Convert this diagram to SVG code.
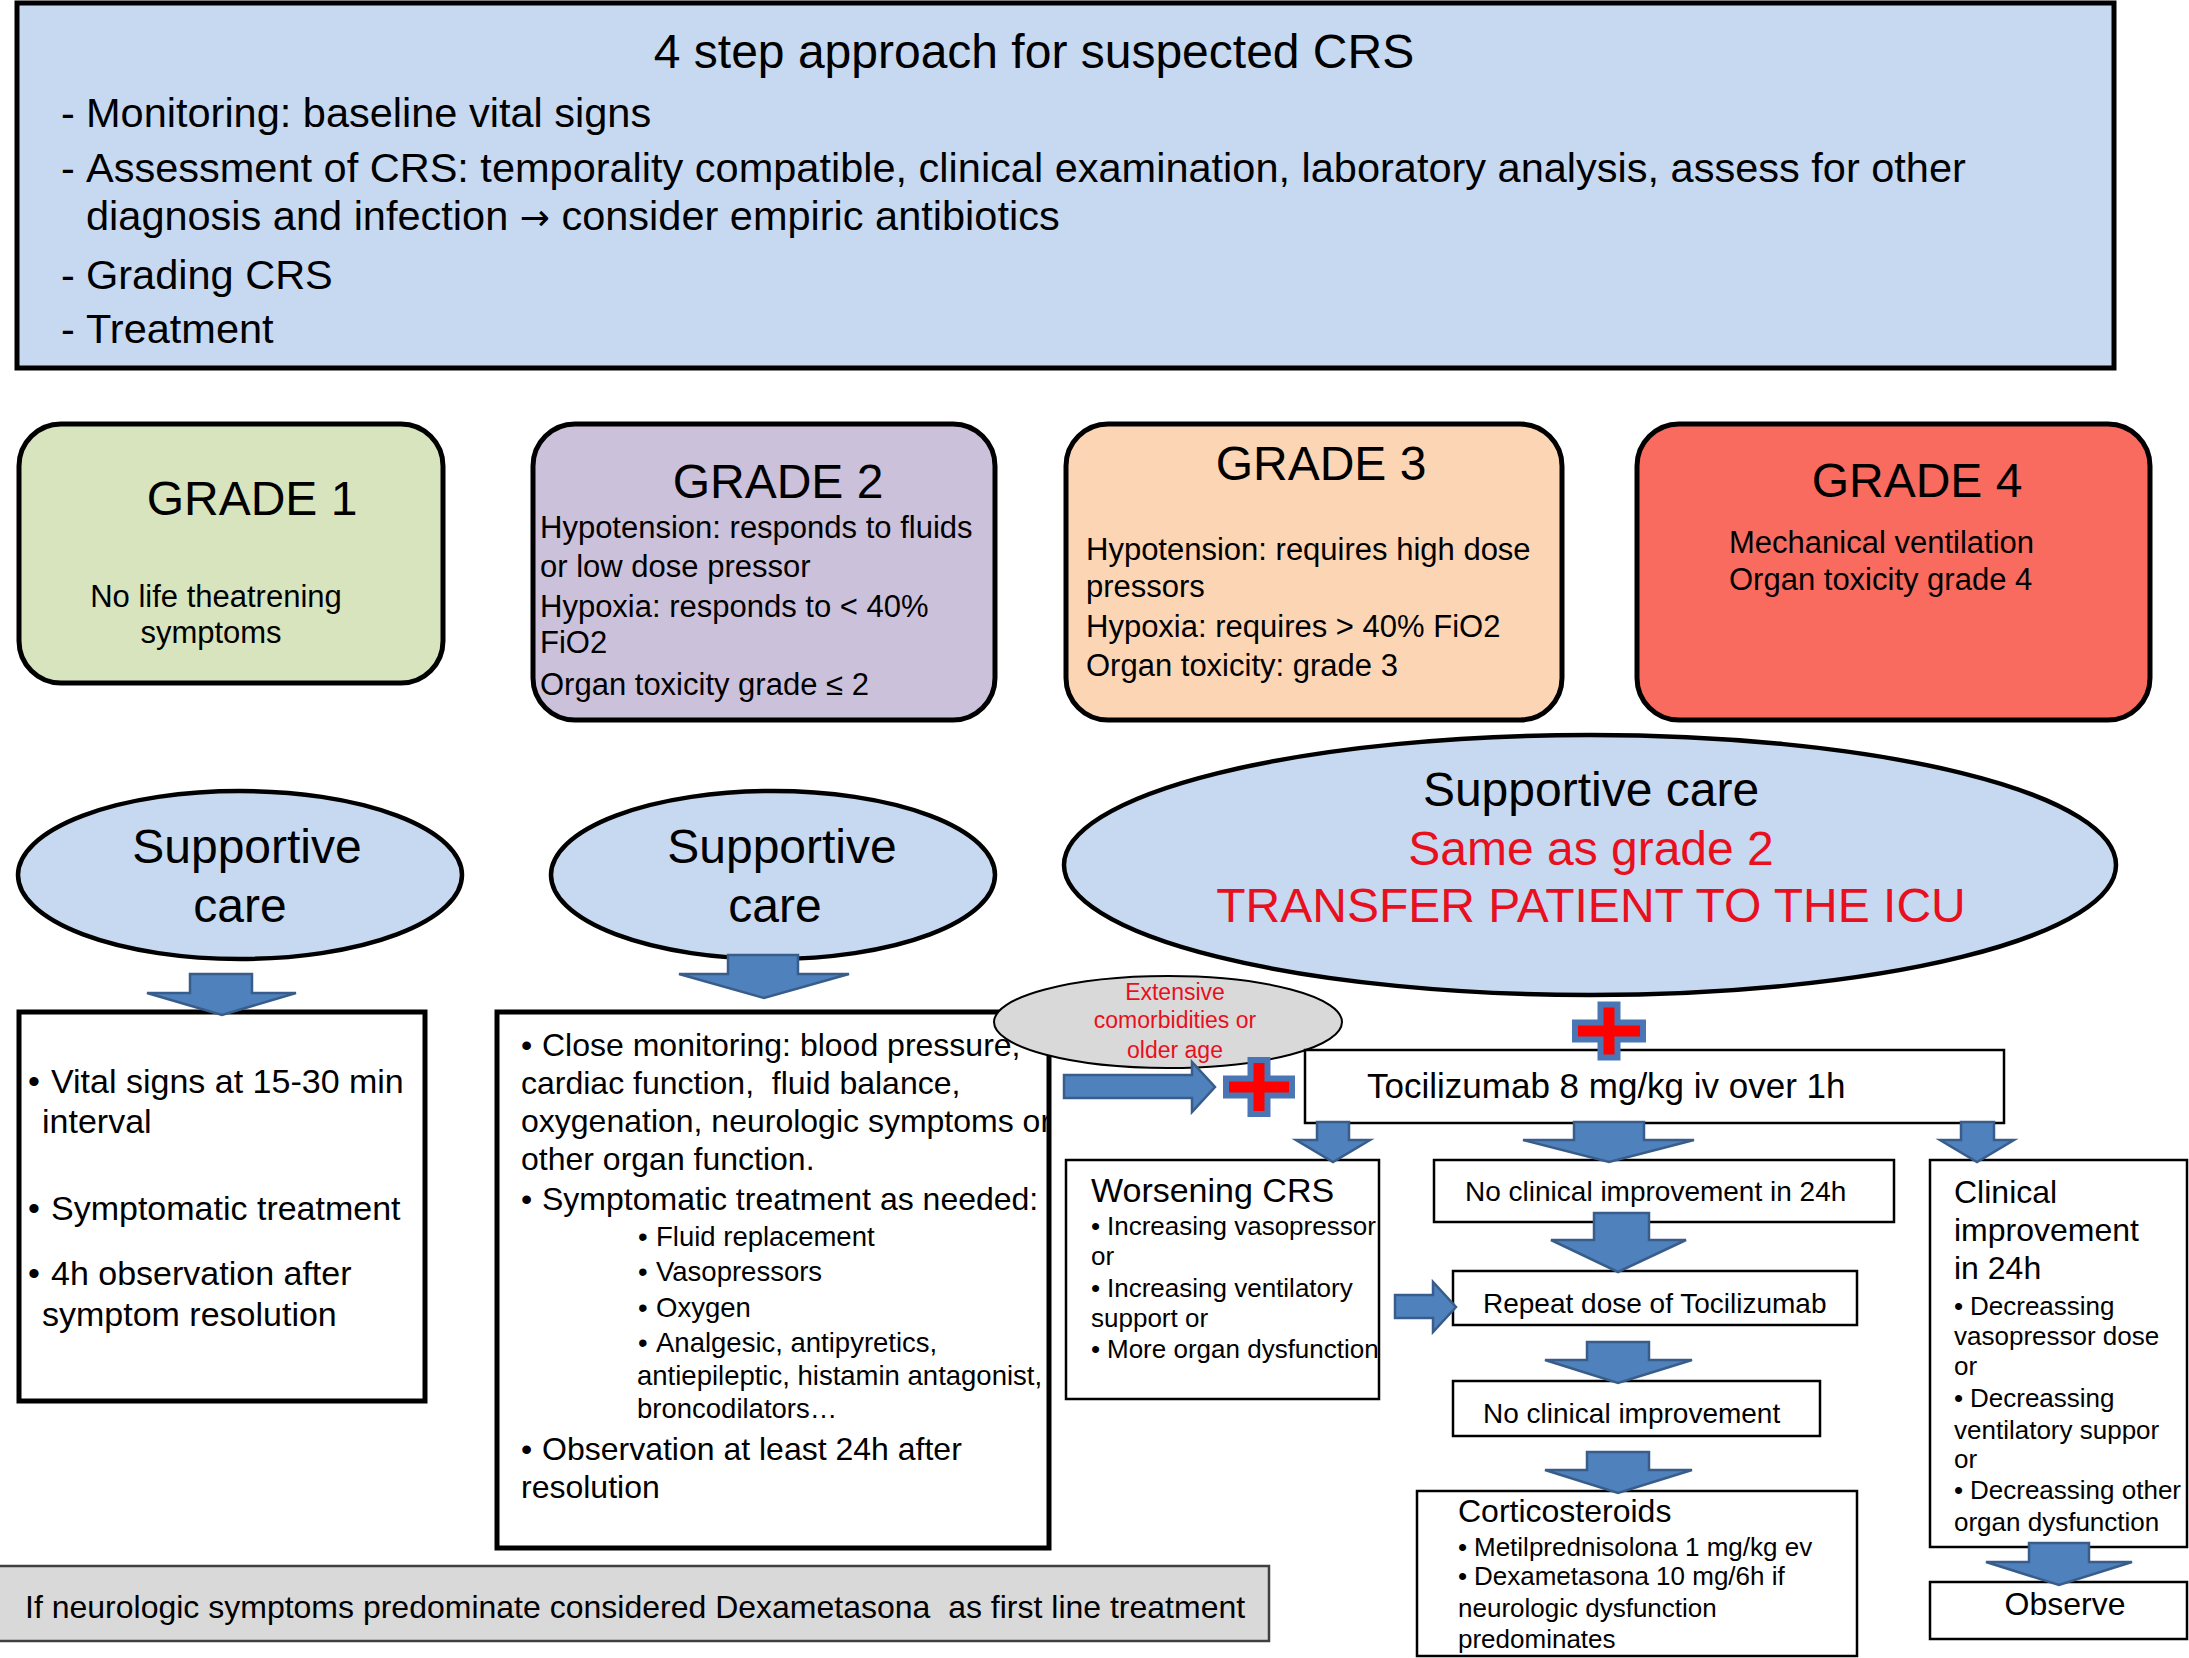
<svg xmlns="http://www.w3.org/2000/svg" width="2189" height="1658" viewBox="0 0 2189 1658">
<style>
text{font-family:"Liberation Sans",Arial,Helvetica,sans-serif;fill:#000}
.red{fill:#e8101e}
.t48{font-size:48px}
.t41{font-size:41.5px}
.t31{font-size:31px}
.t34{font-size:34px}
.t32{font-size:32px}
.t28{font-size:28px}
.t27{font-size:27.5px}
.t26{font-size:26px}
.t23{font-size:23px}
.mid{text-anchor:middle}
.box{fill:#fff;stroke:#000;stroke-width:5}
.thin{fill:#fff;stroke:#000;stroke-width:2.5}
.grade{stroke:#000;stroke-width:5}
.ell{fill:#c6d9f1;stroke:#000;stroke-width:4.5}
.arr{fill:#4f81bd;stroke:#385d8a;stroke-width:2.5;stroke-linejoin:miter}
.plus{fill:#ff0000;stroke:#4a76b5;stroke-width:6}
.sym{font-family:"DejaVu Sans",sans-serif}
</style>

<g id="header">
<rect x="17" y="3" width="2097" height="365" fill="#c6d9f1" stroke="#000" stroke-width="5"/>
<text class="t48 mid" x="1034" y="68">4 step approach for suspected CRS</text>
<text class="t41" x="61" y="127">-</text><text class="t41" x="86" y="127">Monitoring: baseline vital signs</text>
<text class="t41" x="61" y="182">-</text><text class="t41" x="86" y="182">Assessment of CRS: temporality compatible, clinical examination, laboratory analysis, assess for other</text>
<text class="t41" x="86" y="230">diagnosis and infection <tspan class="sym" style="font-size:36px">→</tspan> consider empiric antibiotics</text>
<text class="t41" x="61" y="289">-</text><text class="t41" x="86" y="289">Grading CRS</text>
<text class="t41" x="61" y="343">-</text><text class="t41" x="86" y="343">Treatment</text>
</g>

<g id="grade1">
<rect class="grade" x="19" y="424" width="424" height="259" rx="42" fill="#d7e4bd"/>
<text class="t48 mid" x="252" y="515">GRADE 1</text>
<text class="t31 mid" x="216" y="607">No life theatrening</text>
<text class="t31 mid" x="211" y="643">symptoms</text>
</g>

<g id="grade2">
<rect class="grade" x="533" y="424" width="462" height="296" rx="42" fill="#ccc1da"/>
<text class="t48 mid" x="778" y="498">GRADE 2</text>
<text class="t31" x="540" y="538">Hypotension: responds to fluids</text>
<text class="t31" x="540" y="577">or low dose pressor</text>
<text class="t31" x="540" y="617">Hypoxia: responds to &lt; 40%</text>
<text class="t31" x="540" y="653">FiO2</text>
<text class="t31" x="540" y="695">Organ toxicity grade ≤ 2</text>
</g>

<g id="grade3">
<rect class="grade" x="1066" y="424" width="496" height="296" rx="42" fill="#fcd5b5"/>
<text class="t48 mid" x="1321" y="480">GRADE 3</text>
<text class="t31" x="1086" y="560">Hypotension: requires high dose</text>
<text class="t31" x="1086" y="597">pressors</text>
<text class="t31" x="1086" y="637">Hypoxia: requires &gt; 40% FiO2</text>
<text class="t31" x="1086" y="676">Organ toxicity: grade 3</text>
</g>

<g id="grade4">
<rect class="grade" x="1637" y="424" width="513" height="296" rx="42" fill="#f86b5e"/>
<text class="t48 mid" x="1917" y="497">GRADE 4</text>
<text class="t31" x="1729" y="553">Mechanical ventilation</text>
<text class="t31" x="1729" y="590">Organ toxicity grade 4</text>
</g>

<g id="supportive1">
<ellipse class="ell" cx="240" cy="875" rx="222" ry="84"/>
<text class="t48 mid" x="247" y="863">Supportive</text>
<text class="t48 mid" x="240" y="922">care</text>
</g>

<g id="supportive2">
<ellipse class="ell" cx="773" cy="875" rx="222" ry="84"/>
<text class="t48 mid" x="782" y="863">Supportive</text>
<text class="t48 mid" x="775" y="922">care</text>
</g>

<g id="supportive3">
<ellipse class="ell" cx="1590" cy="865" rx="526" ry="130"/>
<text class="t48 mid" x="1591" y="806">Supportive care</text>
<text class="t48 mid red" x="1591" y="865">Same as grade 2</text>
<text class="t48 mid red" x="1591" y="922">TRANSFER PATIENT TO THE ICU</text>
</g>

<g id="care1">
<rect class="box" x="19" y="1012" width="406" height="389"/>
<text class="t34" x="28" y="1093">•</text><text class="t34" x="51" y="1093">Vital signs at 15-30 min</text>
<text class="t34" x="42" y="1133">interval</text>
<text class="t34" x="28" y="1220">•</text><text class="t34" x="51" y="1220">Symptomatic treatment</text>
<text class="t34" x="28" y="1285">•</text><text class="t34" x="51" y="1285">4h observation after</text>
<text class="t34" x="42" y="1326">symptom resolution</text>
</g>

<g id="care2">
<rect class="box" x="497" y="1012" width="552" height="536"/>
<text class="t32" x="521" y="1056">•</text><text class="t32" x="542" y="1056">Close monitoring: blood pressure,</text>
<text class="t32" x="521" y="1094" xml:space="preserve">cardiac function,  fluid balance,</text>
<text class="t32" x="521" y="1132">oxygenation, neurologic symptoms or</text>
<text class="t32" x="521" y="1170">other organ function.</text>
<text class="t32" x="521" y="1210">•</text><text class="t32" x="542" y="1210">Symptomatic treatment as needed:</text>
<text class="t27" x="638" y="1246">•</text><text class="t27" x="656" y="1246">Fluid replacement</text>
<text class="t27" x="638" y="1281">•</text><text class="t27" x="656" y="1281">Vasopressors</text>
<text class="t27" x="638" y="1317">•</text><text class="t27" x="656" y="1317">Oxygen</text>
<text class="t27" x="638" y="1352">•</text><text class="t27" x="656" y="1352">Analgesic, antipyretics,</text>
<text class="t27" x="637" y="1385">antiepileptic, histamin antagonist,</text>
<text class="t27" x="637" y="1418">broncodilators…</text>
<text class="t32" x="521" y="1460">•</text><text class="t32" x="542" y="1460">Observation at least 24h after</text>
<text class="t32" x="521" y="1498">resolution</text>
</g>

<g id="note">
<rect x="-2" y="1566" width="1271" height="75" fill="#d9d9d9" stroke="#404040" stroke-width="2.5"/>
<text class="t32" x="25" y="1618" xml:space="preserve">If neurologic symptoms predominate considered Dexametasona  as first line treatment</text>
</g>

<g id="comorbidities">
<ellipse cx="1168" cy="1022" rx="174" ry="46" fill="#d9d9d9" stroke="#000" stroke-width="2"/>
<text class="t23 mid red" x="1175" y="1000">Extensive</text>
<text class="t23 mid red" x="1175" y="1028">comorbidities or</text>
<text class="t23 mid red" x="1175" y="1058">older age</text>
</g>

<g id="tocilizumab">
<rect class="thin" x="1305" y="1050" width="699" height="73"/>
<text x="1367" y="1098" style="font-size:35px">Tocilizumab 8 mg/kg iv over 1h</text>
</g>

<g id="worsening">
<rect class="thin" x="1066" y="1160" width="313" height="239"/>
<text class="t34" x="1091" y="1202">Worsening CRS</text>
<text class="t26" x="1091" y="1235">•</text><text class="t26" x="1107" y="1235">Increasing vasopressor</text>
<text class="t26" x="1091" y="1265">or</text>
<text class="t26" x="1091" y="1297">•</text><text class="t26" x="1107" y="1297">Increasing ventilatory</text>
<text class="t26" x="1091" y="1327">support or</text>
<text class="t26" x="1091" y="1358">•</text><text class="t26" x="1107" y="1358">More organ dysfunction</text>
</g>

<g id="noimprove24">
<rect class="thin" x="1434" y="1160" width="460" height="62"/>
<text class="t28" x="1465" y="1201">No clinical improvement in 24h</text>
</g>

<g id="repeat">
<rect class="thin" x="1453" y="1271" width="404" height="54"/>
<text class="t28" x="1483" y="1313">Repeat dose of Tocilizumab</text>
</g>

<g id="noimprove">
<rect class="thin" x="1453" y="1381" width="367" height="55"/>
<text class="t28" x="1483" y="1423">No clinical improvement</text>
</g>

<g id="corticosteroids">
<rect class="thin" x="1417" y="1491" width="440" height="165"/>
<text class="t32" x="1458" y="1522">Corticosteroids</text>
<text class="t26" x="1458" y="1556">•</text><text class="t26" x="1474" y="1556">Metilprednisolona 1 mg/kg ev</text>
<text class="t26" x="1458" y="1585">•</text><text class="t26" x="1474" y="1585">Dexametasona 10 mg/6h if</text>
<text class="t26" x="1458" y="1617">neurologic dysfunction</text>
<text class="t26" x="1458" y="1648">predominates</text>
</g>

<g id="improvement">
<rect class="thin" x="1930" y="1160" width="257" height="387"/>
<text class="t32" x="1954" y="1203">Clinical</text>
<text class="t32" x="1954" y="1241">improvement</text>
<text class="t32" x="1954" y="1279">in 24h</text>
<text class="t26" x="1954" y="1315">•</text><text class="t26" x="1970" y="1315">Decreassing</text>
<text class="t26" x="1954" y="1345">vasopressor dose</text>
<text class="t26" x="1954" y="1375">or</text>
<text class="t26" x="1954" y="1407">•</text><text class="t26" x="1970" y="1407">Decreassing</text>
<text class="t26" x="1954" y="1439">ventilatory suppor</text>
<text class="t26" x="1954" y="1468">or</text>
<text class="t26" x="1954" y="1499">•</text><text class="t26" x="1970" y="1499">Decreassing other</text>
<text class="t26" x="1954" y="1531">organ dysfunction</text>
</g>

<g id="observe">
<rect class="thin" x="1930" y="1582" width="257" height="57"/>
<text class="t32 mid" x="2065" y="1615">Observe</text>
</g>

<g id="connectors">
<polygon class="arr" points="190,974 252,974 252,993 296,993 222,1015 147,993 190,993"/>
<polygon class="arr" points="728,955 798,955 798,974 849,974 764,998 679,974 728,974"/>
<polygon class="arr" points="1317,1122 1349,1122 1349,1140 1370,1140 1333,1162 1296,1140 1317,1140"/>
<polygon class="arr" points="1574,1122 1644,1122 1644,1140 1694,1140 1609,1162 1523,1140 1574,1140"/>
<polygon class="arr" points="1961,1122 1994,1122 1994,1140 2014,1140 1977,1162 1940,1140 1961,1140"/>
<polygon class="arr" points="1594,1213 1649,1213 1649,1240 1686,1240 1618,1272 1551,1240 1594,1240"/>
<polygon class="arr" points="1587,1342 1649,1342 1649,1360 1692,1360 1618,1383 1545,1360 1587,1360"/>
<polygon class="arr" points="1587,1452 1649,1452 1649,1470 1692,1470 1618,1493 1545,1470 1587,1470"/>
<polygon class="arr" points="2029,1543 2089,1543 2089,1562 2132,1562 2059,1585 1986,1562 2029,1562"/>
<polygon class="arr" points="1064,1075 1192,1075 1192,1062 1215,1087 1192,1112 1192,1098 1064,1098"/>
<polygon class="arr" points="1395,1295 1433,1295 1433,1282 1456,1307 1433,1332 1433,1318 1395,1318"/>
</g>

<g id="plus1">
<path class="plus" d="M1250.5,1060 H1267.5 V1078.5 H1292 V1095.5 H1267.5 V1114 H1250.5 V1095.5 H1226 V1078.5 H1250.5 Z"/>
</g>
<g id="plus2">
<path class="plus" d="M1600.5,1004.5 H1617.5 V1022.5 H1643 V1039.5 H1617.5 V1057.5 H1600.5 V1039.5 H1575 V1022.5 H1600.5 Z"/>
</g>
</svg>
